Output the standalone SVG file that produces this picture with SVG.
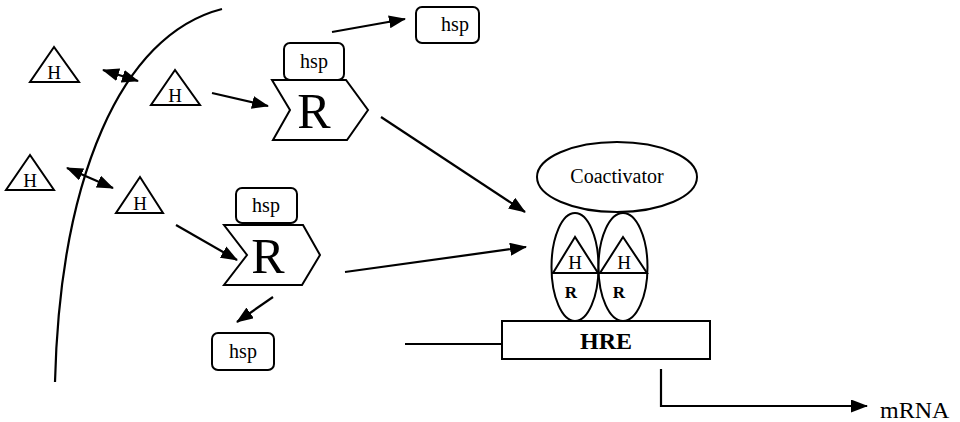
<svg xmlns="http://www.w3.org/2000/svg" width="960" height="422" viewBox="0 0 960 422">
<defs>
<marker id="ah" markerUnits="userSpaceOnUse" markerWidth="17" markerHeight="13" refX="16" refY="6.5" orient="auto-start-reverse">
<path d="M0,0 L17,6.5 L0,13 z" fill="#000"/>
</marker>
</defs>
<style>
.s{fill:#fff;stroke:#000;stroke-width:2}
.l{fill:none;stroke:#000;stroke-width:2.2}
.t{fill:#000;text-anchor:middle}
</style>
<rect width="960" height="422" fill="#fff"/>
<path class="l" d="M222,9 C120,35 60,180 55,382"/>
<g font-family="Liberation Serif, serif">
<g id="h1"><polygon class="s" points="54,47 30,82 79,82"/><text class="t" x="54" y="79" font-size="19">H</text></g>
<g id="h2"><polygon class="s" points="175,70 151,105 200,105"/><text class="t" x="175" y="102" font-size="19">H</text></g>
<g id="h3"><polygon class="s" points="30,155 6,190 54,190"/><text class="t" x="30" y="187" font-size="19">H</text></g>
<g id="h4"><polygon class="s" points="140,177 116,213 163,213"/><text class="t" x="140" y="210" font-size="19">H</text></g>
<g id="r1"><polygon class="s" points="272,80 346,80 368,110 347,140 273,140 290,110"/><text class="t" x="314" y="128" font-size="50">R</text></g>
<g id="hsp1"><rect class="s" x="284" y="43" width="60" height="37" rx="6"/><text class="t" x="314" y="68" font-size="20">hsp</text></g>
<g id="hsp2"><rect class="s" x="416" y="7" width="63" height="36" rx="6"/><text class="t" x="455" y="31" font-size="20">hsp</text></g>
<g id="r2"><polygon class="s" points="224,225 303,225 320,255 302,285 224,285 247,255"/><text class="t" x="268" y="273" font-size="50">R</text></g>
<g id="hsp3"><rect class="s" x="236" y="188" width="61" height="35" rx="6"/><text class="t" x="266" y="212" font-size="20">hsp</text></g>
<g id="hsp4"><rect class="s" x="212" y="333" width="62" height="37" rx="6"/><text class="t" x="243" y="358" font-size="20">hsp</text></g>
<g id="coact"><ellipse class="s" cx="617" cy="177" rx="80" ry="35"/><text class="t" x="617" y="183" font-size="20">Coactivator</text></g>
<g id="hr1"><ellipse class="s" cx="575" cy="267" rx="23.5" ry="54"/><line class="s" x1="551.5" y1="273" x2="598.5" y2="273"/><polygon class="s" points="575,237 553,273 598,273"/><text class="t" x="575" y="269" font-size="19">H</text><text class="t" x="571" y="298" font-size="17" font-weight="bold">R</text></g>
<g id="hr2"><ellipse class="s" cx="623" cy="267" rx="24.5" ry="54"/><line class="s" x1="598.5" y1="273" x2="647.5" y2="273"/><polygon class="s" points="623,237 600,273 647,273"/><text class="t" x="624" y="269" font-size="19">H</text><text class="t" x="619" y="298" font-size="17" font-weight="bold">R</text></g>
<g id="hre"><rect class="s" x="502" y="321" width="208" height="38"/><text class="t" x="606" y="349" font-size="24" font-weight="bold">HRE</text></g>
<g id="mrna"><text x="880" y="418" font-size="24">mRNA</text></g>
</g>
<g id="connectors">
<line class="l" x1="212" y1="93" x2="268" y2="106" marker-end="url(#ah)"/>
<line class="l" x1="332" y1="32" x2="405" y2="19" marker-end="url(#ah)"/>
<line class="l" x1="381" y1="117" x2="525" y2="212" marker-end="url(#ah)"/>
<line class="l" x1="176" y1="225" x2="237" y2="260" marker-end="url(#ah)"/>
<line class="l" x1="273" y1="297" x2="237" y2="322" marker-end="url(#ah)"/>
<line class="l" x1="345" y1="272" x2="526" y2="247" marker-end="url(#ah)"/>
<line class="l" x1="405" y1="344" x2="502" y2="344"/>
<path class="l" d="M661,369 V406 H867" marker-end="url(#ah)"/>
<line class="l" x1="103" y1="70" x2="138" y2="81" marker-start="url(#ah)" marker-end="url(#ah)"/>
<line class="l" x1="67" y1="168" x2="113" y2="188" marker-start="url(#ah)" marker-end="url(#ah)"/>
</g>
</svg>
